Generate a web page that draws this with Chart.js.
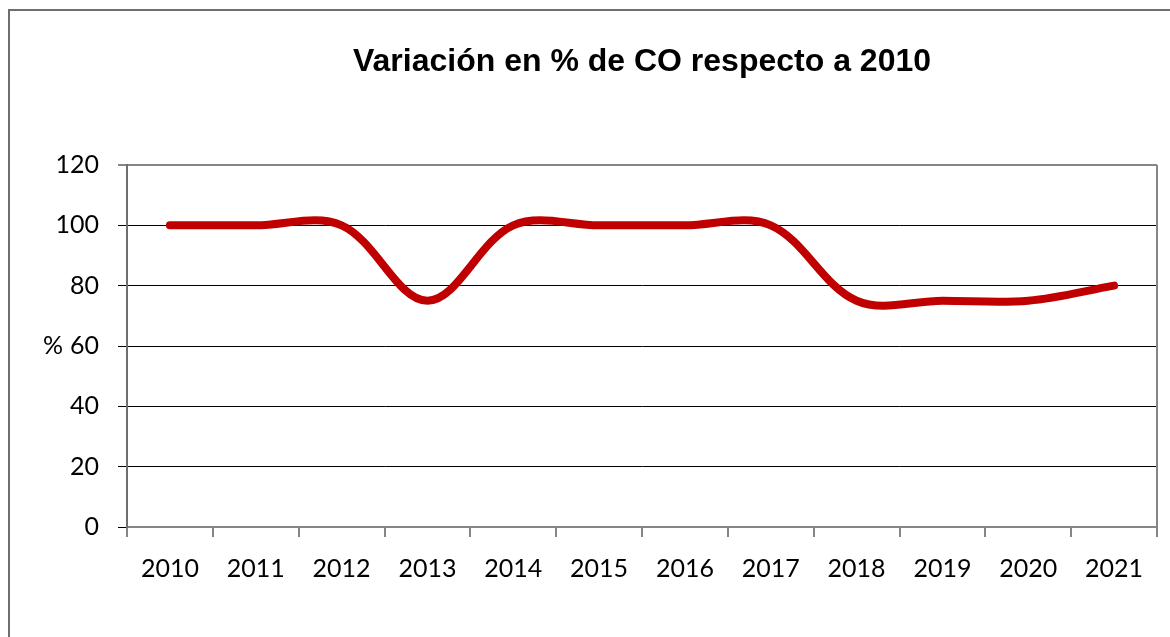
<!DOCTYPE html>
<html>
<head>
<meta charset="utf-8">
<script src="https://cdn.jsdelivr.net/npm/chart.js@4.4.1/dist/chart.umd.min.js"></script>
<style>
  html, body { margin: 0; padding: 0; background: #fff; }
  #wrap { width: 1170px; height: 637px; position: relative; }
</style>
</head>
<body>
<div id="wrap"><canvas id="chart" width="1170" height="637"></canvas></div>
<script>
// data
var years = ['2010', '2011', '2012', '2013', '2014', '2015', '2016', '2017', '2018', '2019', '2020', '2021'];
var coVariation = [100, 100, 100, 75, 100, 100, 100, 100, 75, 75, 75, 80];
var yTicks = [0, 20, 40, 60, 80, 100, 120];
var chartTitle = 'Variación en % de CO respecto a 2010';
var yLabel = '%';

var tickFont = { family: 'Lato, "Open Sans", sans-serif', size: 25 };

// frame, title and the unrotated "%" label
var decorPlugin = {
    id: 'decor',
    beforeDraw: function (chart) {
        var ctx = chart.ctx;
        ctx.save();
        ctx.strokeStyle = '#6e6e6e';
        ctx.lineWidth = 2;
        ctx.strokeRect(9, 10, 1200, 700);
        ctx.restore();
    },
    afterDraw: function (chart) {
        var ctx = chart.ctx;
        var area = chart.chartArea;
        ctx.save();
        // right border of plot area
        ctx.strokeStyle = '#868686';
        ctx.lineWidth = 2;
        ctx.beginPath();
        ctx.moveTo(area.right, area.top);
        ctx.lineTo(area.right, area.bottom);
        ctx.stroke();
        // title
        ctx.fillStyle = '#000';
        ctx.font = 'bold 32px "Liberation Sans", Arial, sans-serif';
        ctx.textAlign = 'center';
        ctx.textBaseline = 'middle';
        ctx.fillText(chartTitle, (area.left + area.right) / 2, 62);
        // y axis label
        ctx.font = '25px Lato, "Open Sans", sans-serif';
        ctx.fillText(yLabel, 53, (area.top + area.bottom) / 2);
        ctx.restore();
    }
};

var chart = new Chart(document.getElementById('chart'), {
    type: 'line',
    data: {
        labels: years,
        datasets: [{
            data: coVariation,
            borderColor: '#c00000',
            borderWidth: 8,
            borderCapStyle: 'round',
            borderJoinStyle: 'round',
            tension: 0.35,
            pointRadius: 0,
            fill: false
        }]
    },
    options: {
        responsive: false,
        animation: false,
        layout: { padding: { left: 0, right: 13, top: 165, bottom: 0 } },
        plugins: {
            legend: { display: false },
            title: { display: false },
            tooltip: { enabled: false }
        },
        scales: {
            x: {
                offset: true,
                grid: {
                    offset: true,
                    drawOnChartArea: false,
                    drawTicks: true,
                    tickLength: 10,
                    color: '#868686',
                    lineWidth: 2
                },
                border: { color: '#868686', width: 2 },
                ticks: { color: '#000', font: tickFont, padding: 17, maxRotation: 0, autoSkip: false },
                afterFit: function (scale) { scale.height = 110; }
            },
            y: {
                min: 0,
                max: 120,
                afterBuildTicks: function (scale) {
                    scale.ticks = yTicks.map(function (v) { return { value: v }; });
                },
                grid: {
                    tickLength: 9,
                    color: function (c) { return c.tick && c.tick.value === 120 ? '#868686' : '#000'; },
                    lineWidth: function (c) { return c.tick && c.tick.value === 120 ? 2 : 1; }
                },
                border: { color: '#6e6e6e', width: 2 },
                ticks: { color: '#000', font: tickFont, padding: 19 },
                afterFit: function (scale) { scale.width = 127; }
            }
        }
    },
    plugins: [decorPlugin]
});
</script>
</body>
</html>
